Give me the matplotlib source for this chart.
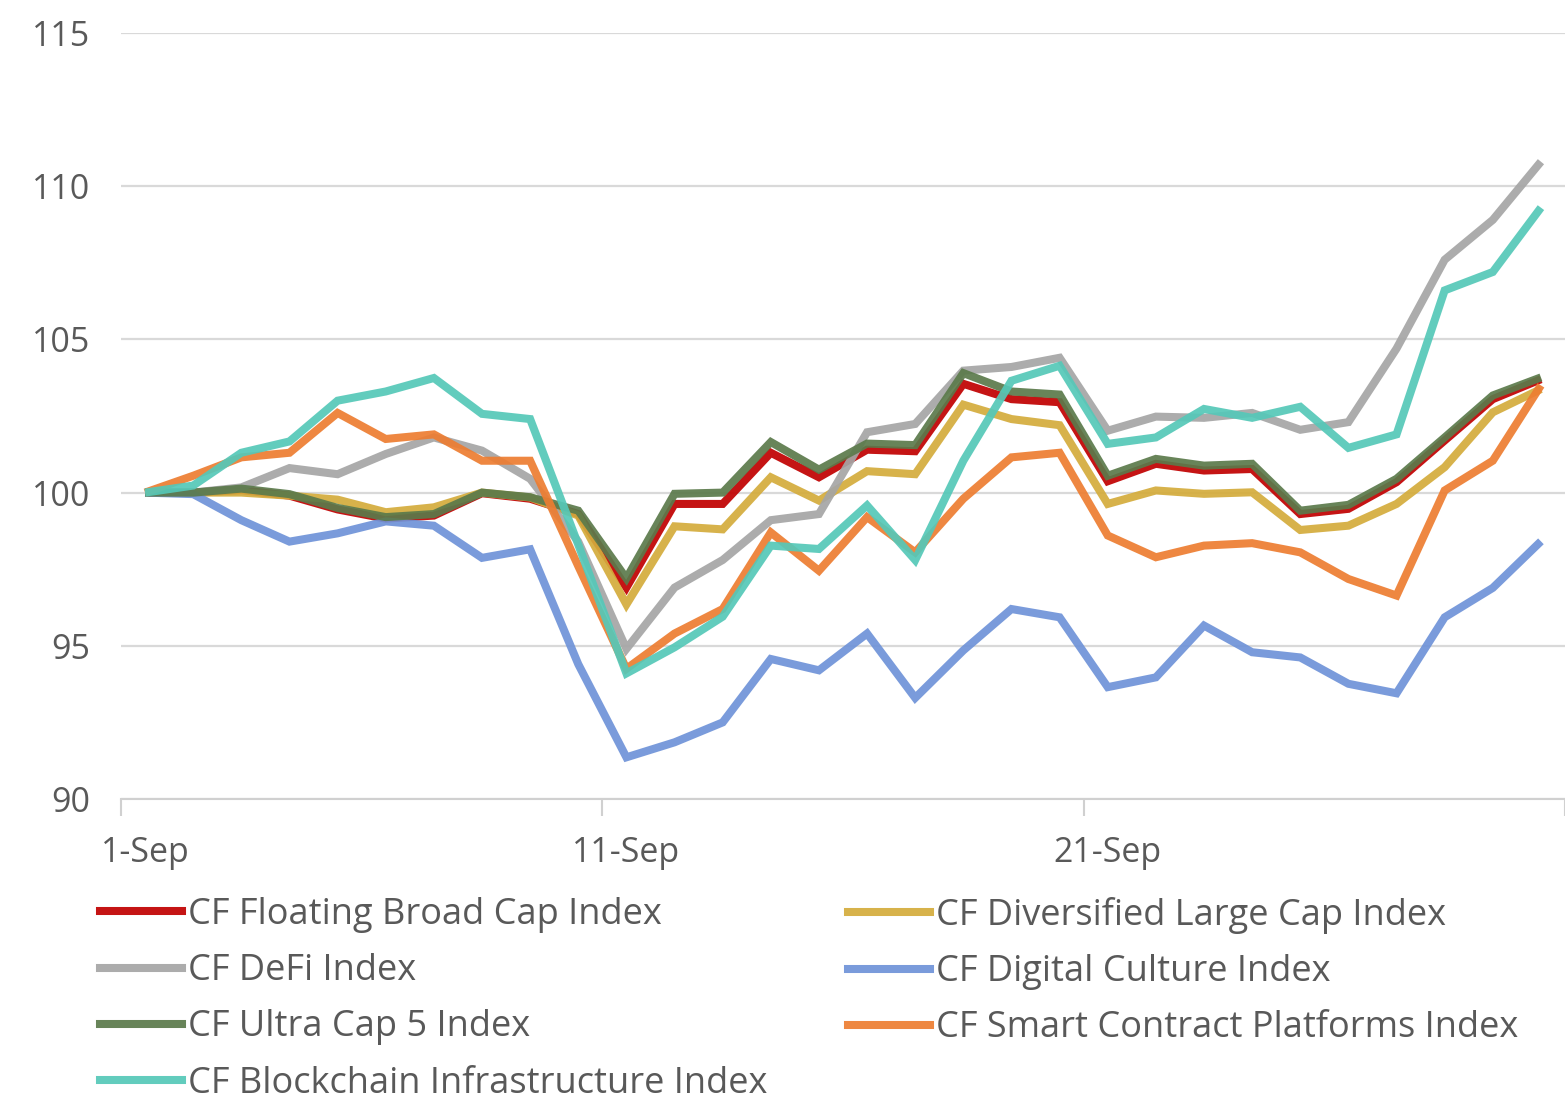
import matplotlib
matplotlib.use("Agg")
import matplotlib.pyplot as plt
from matplotlib.lines import Line2D

plt.rcParams['font.family'] = ['Open Sans', 'DejaVu Sans']

days = [f"{d}-Sep" for d in range(1, 31)]
tick_days = ["1-Sep", "11-Sep", "21-Sep"]
yticks = [90, 95, 100, 105, 110, 115]

floating_broad_cap = [100, 100.0, 100.08, 99.9, 99.45, 99.15, 99.25, 99.98, 99.8, 99.3,
                      96.9, 99.63, 99.63, 101.3, 100.5, 101.4, 101.35, 103.55, 103.05, 102.95,
                      100.37, 100.94, 100.72, 100.77, 99.3, 99.47, 100.34, 101.7, 103.05, 103.7]
diversified_large_cap = [100, 100.0, 100.0, 99.9, 99.77, 99.36, 99.52, 100.0, 99.84, 99.25,
                         96.35, 98.9, 98.8, 100.5, 99.74, 100.7, 100.6, 102.87, 102.4, 102.2,
                         99.63, 100.07, 99.96, 100.01, 98.78, 98.92, 99.63, 100.83, 102.62, 103.38]
defi = [100, 100.0, 100.17, 100.8, 100.6, 101.26, 101.8, 101.37, 100.45, 98.4,
        94.9, 96.9, 97.8, 99.1, 99.3, 101.97, 102.24, 103.98, 104.1, 104.4,
        102.02, 102.48, 102.44, 102.6, 102.05, 102.3, 104.7, 107.6, 108.9, 110.8]
digital_culture = [100, 99.95, 99.1, 98.4, 98.67, 99.06, 98.92, 97.87, 98.15, 94.4,
                   91.36, 91.85, 92.5, 94.57, 94.2, 95.4, 93.3, 94.85, 96.2, 95.93,
                   93.65, 93.97, 95.66, 94.79, 94.62, 93.76, 93.45, 95.93, 96.89, 98.41]
ultra_cap_5 = [100, 100.0, 100.13, 99.95, 99.5, 99.2, 99.3, 100.0, 99.85, 99.41,
               97.2, 99.96, 100.0, 101.65, 100.75, 101.6, 101.55, 103.9, 103.3, 103.2,
               100.55, 101.1, 100.88, 100.94, 99.41, 99.6, 100.45, 101.8, 103.17, 103.76]
smart_contract = [100, 100.55, 101.15, 101.3, 102.6, 101.75, 101.9, 101.04, 101.04, 97.6,
                  94.25, 95.4, 96.2, 98.7, 97.45, 99.2, 98.05, 99.8, 101.15, 101.3,
                  98.6, 97.89, 98.27, 98.35, 98.05, 97.18, 96.64, 100.07, 101.04, 103.5]
blockchain_infra = [100, 100.23, 101.3, 101.67, 103.0, 103.3, 103.74, 102.57, 102.4, 98.3,
                    94.1, 94.95, 95.95, 98.27, 98.16, 99.58, 97.8, 101.04, 103.65, 104.14,
                    101.59, 101.8, 102.73, 102.44, 102.8, 101.46, 101.9, 106.6, 107.2, 109.3]

series = [
    ("CF Floating Broad Cap Index", floating_broad_cap, "#C00000"),
    ("CF Diversified Large Cap Index", diversified_large_cap, "#D4AC3C"),
    ("CF DeFi Index", defi, "#A5A5A5"),
    ("CF Digital Culture Index", digital_culture, "#6F93D8"),
    ("CF Ultra Cap 5 Index", ultra_cap_5, "#5B7A4B"),
    ("CF Smart Contract Platforms Index", smart_contract, "#ED7D31"),
    ("CF Blockchain Infrastructure Index", blockchain_infra, "#55C8B8"),
]

W, H = 1565, 1096
fig = plt.figure(figsize=(W / 100, H / 100), dpi=100)
ax = fig.add_axes([121 / W, 1 - 799 / H, (1565 - 121) / W, (799 - 33) / H])

x = list(range(len(days)))
handles = {}
for name, vals, col in series:
    ax.plot(x, vals, color=col, lw=5.8, alpha=0.92, solid_joinstyle='miter',
            solid_capstyle='butt')
    handles[name] = Line2D([0], [0], color=col, lw=5.8, alpha=0.92)

ax.set_xlim(-0.5, 29.4)
ax.set_ylim(90, 115)
ax.set_yticks(yticks)
ax.set_yticklabels([str(v) for v in yticks])
ax.grid(axis='y', color='#D9D9D9', lw=1.6)
ax.set_axisbelow(True)

# category boundary tick marks
ax.set_xticks([-0.5, 9.5, 19.5, 29.5], minor=False)
ax.set_xticklabels([])
ax.tick_params(axis='x', which='major', length=12, width=1.5, color='#D0D0D0', direction='out')
ax.set_xticks([days.index(d) for d in tick_days], minor=True)
ax.set_xticklabels(tick_days, minor=True)
ax.tick_params(axis='x', which='minor', length=0, pad=27, labelsize=24.5, labelcolor='#595959')
ax.tick_params(axis='y', length=0, pad=22, labelsize=24.5, labelcolor='#595959')

for s in ['top', 'right', 'left']:
    ax.spines[s].set_visible(False)
ax.spines['bottom'].set_color('#D0D0D0')
ax.spines['bottom'].set_linewidth(1.5)

col1 = ["CF Floating Broad Cap Index", "CF DeFi Index", "CF Ultra Cap 5 Index",
        "CF Blockchain Infrastructure Index"]
col2 = ["CF Diversified Large Cap Index", "CF Digital Culture Index",
        "CF Smart Contract Platforms Index"]

common = dict(loc='upper left', frameon=False, fontsize=26, handlelength=2.28,
              handletextpad=0.17, labelspacing=0.56, borderpad=0, borderaxespad=0,
              labelcolor='#595959')
leg1 = fig.legend([handles[n] for n in col1], col1,
                  bbox_to_anchor=(100 / W, 1 - 897 / H), **common)
leg2 = fig.legend([handles[n] for n in col2], col2,
                  bbox_to_anchor=(848 / W, 1 - 897 / H), **common)

fig.savefig("out.png", dpi=100)
